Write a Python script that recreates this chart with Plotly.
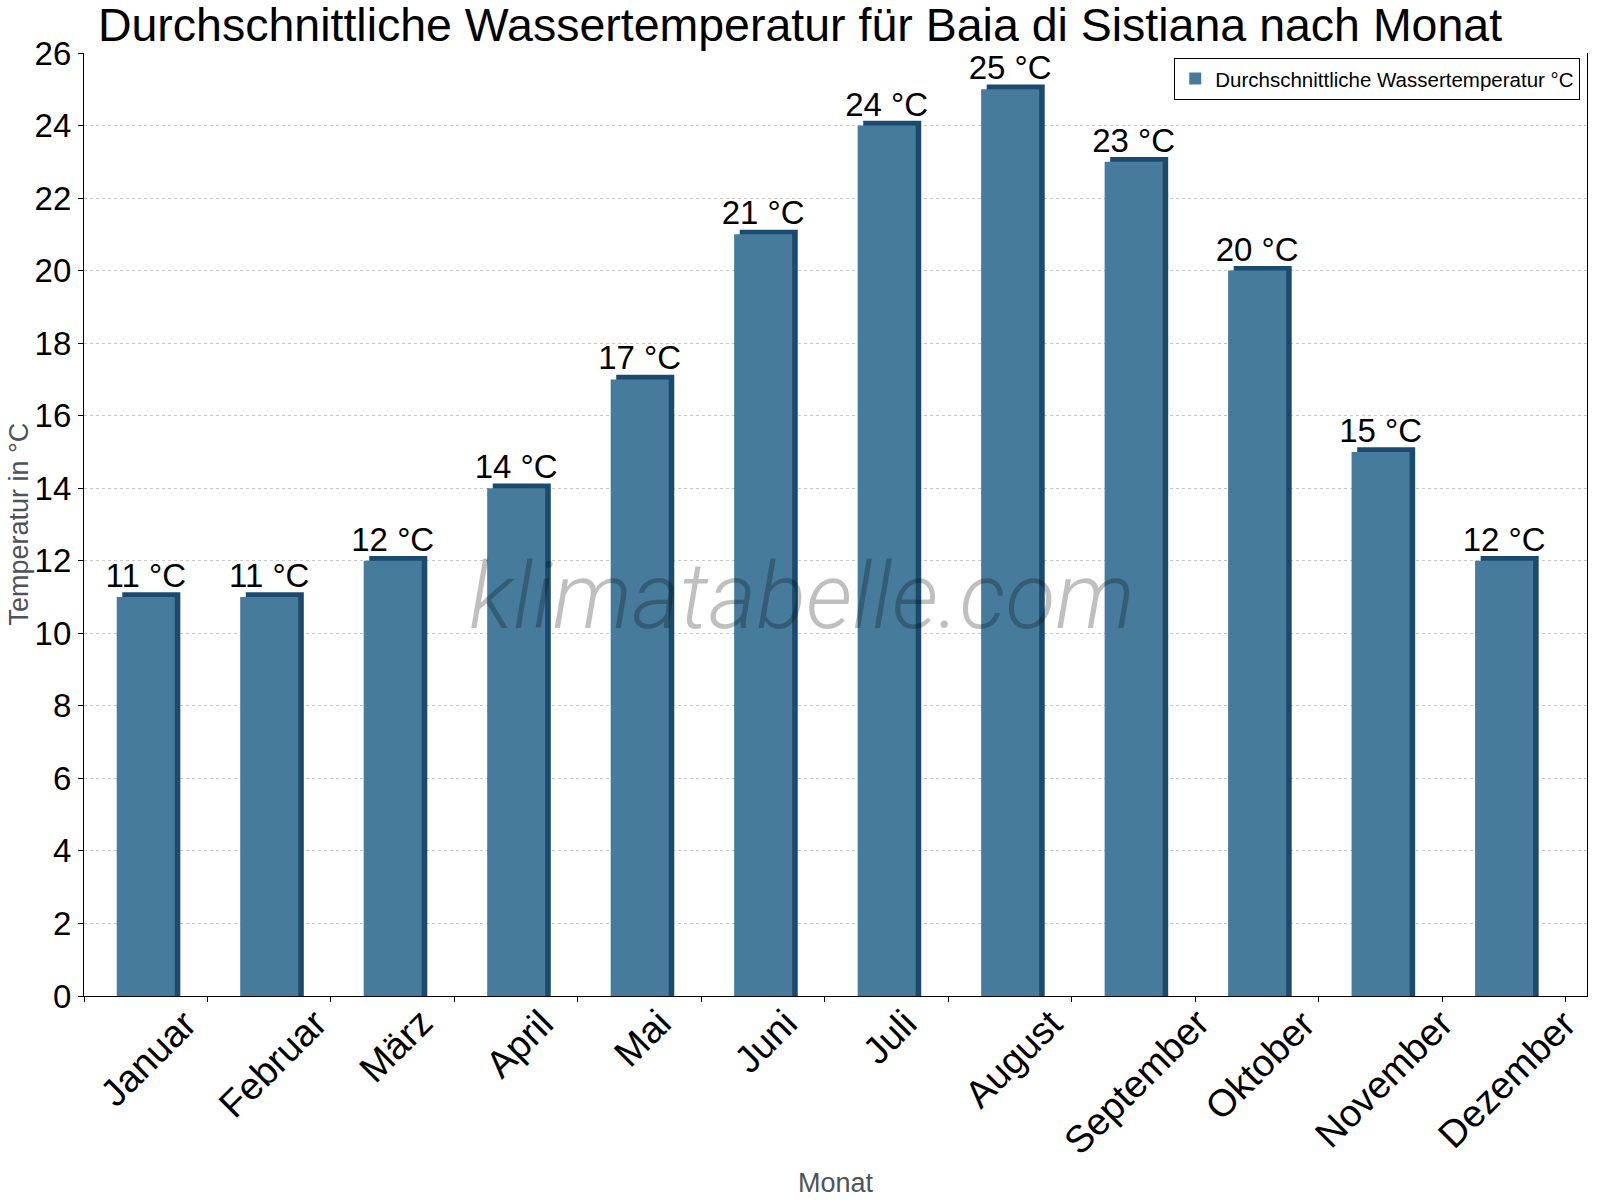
import plotly.graph_objects as go

# Monatsdaten (Wassertemperatur in °C)
months = ["Januar", "Februar", "März", "April", "Mai", "Juni", "Juli",
          "August", "September", "Oktober", "November", "Dezember"]
water_temp = [11, 11, 12, 14, 17, 21, 24, 25, 23, 20, 15, 12]
y_ticks = list(range(0, 27, 2))

FACE = "#467b9c"
SIDE = "#1a4b6e"
FONT = "Liberation Sans, Arial, sans-serif"
AXIS_TITLE = "#4d535a"

bar_w = 0.47
depth_x = 0.045   # 3D side, in category units
depth_y = 0.13    # 3D top, in °C

fig = go.Figure()

# dunkle "3D"-Kante hinter dem Balken
fig.add_trace(go.Bar(
    x=months,
    y=[v + depth_y for v in water_temp],
    width=bar_w,
    offset=-bar_w / 2 + depth_x,
    marker=dict(color=SIDE, line=dict(width=0)),
    showlegend=False,
    hoverinfo="skip",
))

# Vorderseite mit Beschriftung
fig.add_trace(go.Bar(
    x=months,
    y=water_temp,
    width=bar_w,
    offset=-bar_w / 2,
    name="Durchschnittliche Wassertemperatur °C",
    marker=dict(color=FACE, line=dict(width=0)),
    text=[f"{v} °C" for v in water_temp],
    textposition="outside",
    constraintext="none",
    textfont=dict(size=33, color="black", family=FONT),
    cliponaxis=False,
))

fig.update_layout(
    width=1600,
    height=1200,
    barmode="overlay",
    plot_bgcolor="white",
    paper_bgcolor="white",
    margin=dict(l=84, r=13, t=53, b=204),
    font=dict(family=FONT, color="black"),
    title=dict(
        text="Durchschnittliche Wassertemperatur für Baia di Sistiana nach Monat",
        font=dict(size=46.5, color="black", family=FONT),
        x=0.5, xanchor="center",
        y=0.979, yanchor="middle", yref="container",
    ),
    legend=dict(
        x=0.9955, xanchor="right",
        y=0.995, yanchor="top",
        bgcolor="white",
        bordercolor="black",
        borderwidth=1,
        font=dict(size=20.5, color="black", family=FONT),
    ),
)

fig.update_xaxes(
    type="category",
    automargin=False,
    showline=True, linecolor="black", linewidth=1.3,
    ticks="outside", ticklen=5, tickcolor="black",
    tickson="boundaries",
    showticklabels=False,
    showgrid=False,
)

fig.update_yaxes(
    range=[0, 26],
    automargin=False,
    tickvals=y_ticks,
    showline=True, linecolor="black", linewidth=1.3, mirror=True,
    ticks="outside", ticklen=5, tickcolor="black",
    tickfont=dict(size=33, color="black", family=FONT),
    showgrid=True, gridcolor="#c8c8c8", griddash="dot", gridwidth=1,
    zeroline=False,
)

# Monatsbeschriftung: gedreht und mittig unter der Kategorie
for m in months:
    fig.add_annotation(
        text=m, x=m, xref="x", y=0, yref="paper",
        textangle=-45, xanchor="center", yanchor="top",
        xshift=3, yshift=-3, showarrow=False,
        font=dict(size=38, color="black", family=FONT),
    )

# Achsentitel
fig.add_annotation(
    text="Monat", x=0.5, xref="paper", y=-0.1983, yref="paper",
    xanchor="center", yanchor="middle", showarrow=False,
    font=dict(size=27, color=AXIS_TITLE, family=FONT),
)
fig.add_annotation(
    text="Temperatur in °C", x=0, xref="paper", y=0.5, yref="paper",
    textangle=-90, xanchor="center", yanchor="middle", xshift=-66,
    showarrow=False,
    font=dict(size=27, color=AXIS_TITLE, family=FONT),
)

# Wasserzeichen
fig.add_annotation(
    text="klimatabelle.com",
    xref="paper", yref="paper",
    x=0.478, y=0.424,
    xanchor="center", yanchor="middle",
    showarrow=False,
    font=dict(size=92, color="rgba(0,0,0,0.25)", family="Roboto", style="italic", weight=300),
)

fig.write_html(
    "out.html",
    config={"displayModeBar": False},
    post_script="document.body.style.margin='0';",
)
